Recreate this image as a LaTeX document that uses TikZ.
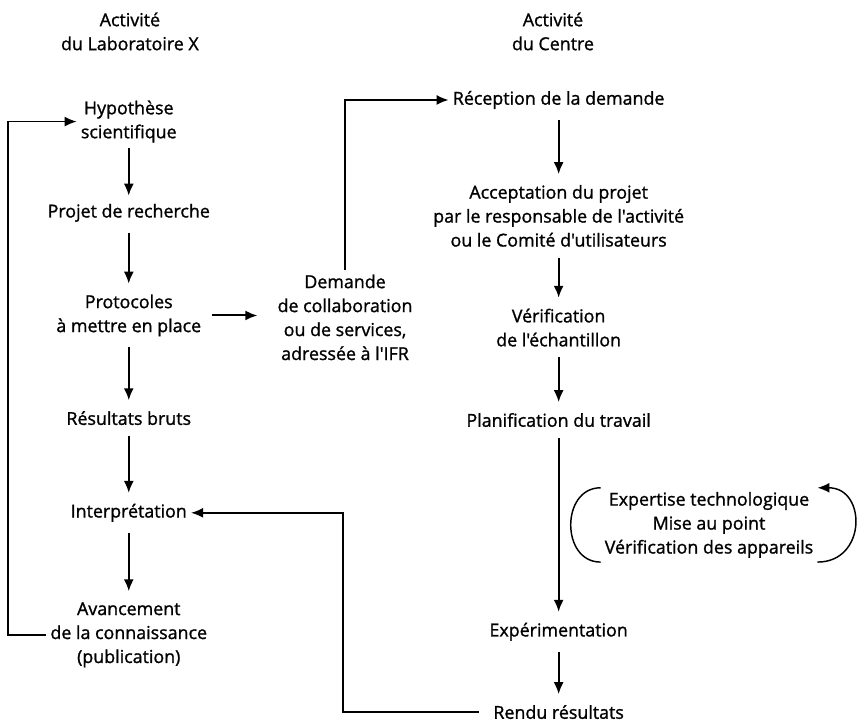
\documentclass[tikz,border=0pt]{standalone}
\usepackage{fontspec}
\setmainfont{Open Sans}[FakeBold=1.2, Ligatures=TeXOff]
\usetikzlibrary{arrows.meta}

\begin{document}
\begin{tikzpicture}[
    txt/.style={align=center, inner sep=3pt, font=\fontsize{13.4}{18}\selectfont},
    arrow/.style={-{Latex[length=9pt,width=7.5pt]}, line width=1.5pt, shorten <=5pt, shorten >=5pt},
    back/.style={-{Latex[length=9pt,width=7.5pt]}, line width=1.2pt}
]
\useasboundingbox (0,0) rectangle (22.68,19.09);
% en-tetes
\node[txt] (hdlab) at (3.43,18.26) {Activité\\du Laboratoire X};
\node[txt] (hdcen) at (14.60,18.26) {Activité\\du Centre};
% colonne laboratoire
\node[txt] (hyp) at (3.40,15.88) {Hypothèse\\scientifique};
\node[txt] (proj) at (3.40,13.47) {Projet de recherche};
\node[txt] (prot) at (3.40,10.76) {Protocoles\\à mettre en place};
\node[txt] (res) at (3.40,8.05) {Résultats bruts};
\node[txt] (interp) at (3.40,5.55) {Interprétation};
\node[txt] (avanc) at (3.40,2.33) {Avancement\\de la connaissance\\(publication)};
% demande
\node[txt] (dem) at (9.11,10.71) {Demande\\de collaboration\\ou de services,\\adressée à l'IFR};
% colonne centre
\node[txt] (recep) at (14.75,16.45) {Réception de la demande};
\node[txt] (accept) at (14.75,13.39) {Acceptation du projet\\par le responsable de l'activité\\ou le Comité d'utilisateurs};
\node[txt] (verif) at (14.75,10.44) {Vérification\\de l'échantillon};
\node[txt] (plan) at (14.75,8.00) {Planification du travail};
\node[txt] (loop) at (18.72,5.23) {Expertise technologique\\Mise au point\\Vérification des appareils};
\node[txt] (exper) at (14.75,2.41) {Expérimentation};
\node[txt] (rendu) at (14.75,0.29) {Rendu résultats};
\coordinate (lbend) at (0.21,0);
\coordinate (rbend) at (9.06,0);
% fleches
\draw[arrow, shorten <=1pt, shorten >=3pt] (hyp) -- (proj);
\draw[arrow] (proj) -- (prot);
\draw[arrow] (prot) -- (res);
\draw[arrow] (res) -- (interp);
\draw[arrow] (interp) -- (avanc);
\draw[arrow, shorten >=12pt] (prot.east) -- (prot.east -| dem.west);
\draw[back] (dem.north) |- (recep.west);
\draw[arrow] (recep) -- (accept);
\draw[arrow] (accept) -- (verif);
\draw[arrow] (verif) -- (plan);
\draw[arrow] (plan) -- (exper);
\draw[arrow] (exper) -- (rendu);
\draw[back] (avanc.west) -- (avanc.west -| lbend) |- (hyp.west);
\draw[back, shorten <=8pt] (rendu.west) -- (rendu.west -| rbend) |- (interp.east);
% boucle
\draw[line width=1.1pt] (loop.north west) .. controls +(-1.05,0) and +(-1.05,0) .. (loop.south west);
\draw[back, line width=1.1pt] (loop.south east) .. controls +(1.3,0) and +(1.3,0) .. (loop.north east);
\end{tikzpicture}
\end{document}
